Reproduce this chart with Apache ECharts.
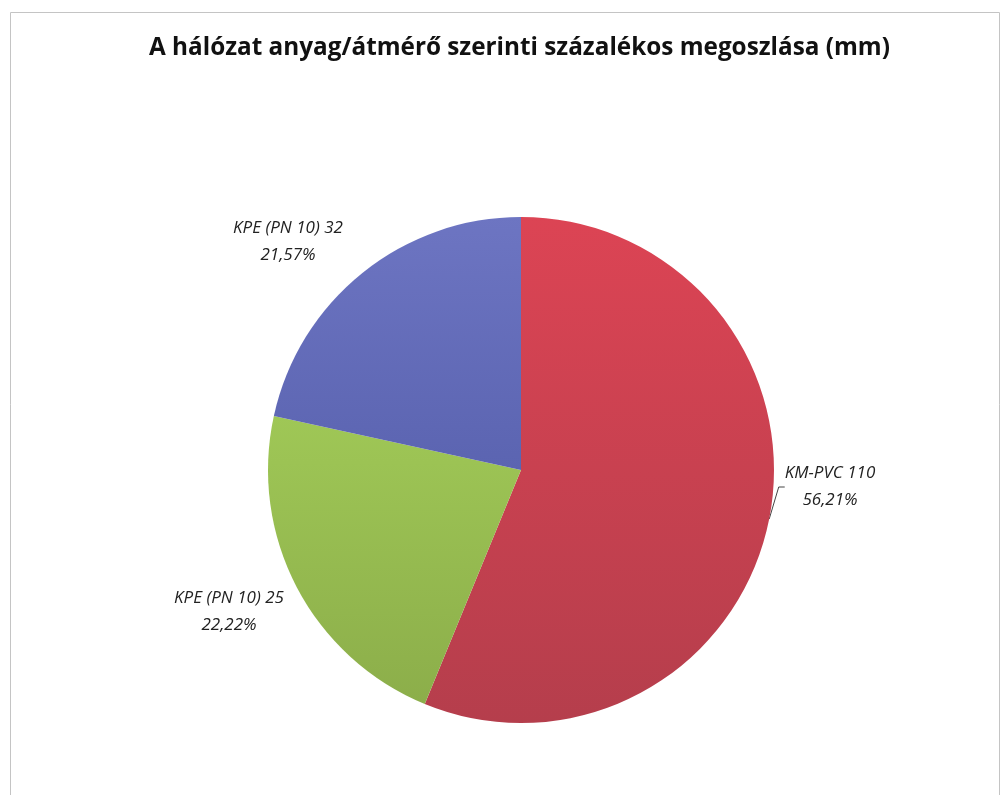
<!DOCTYPE html>
<html>
<head>
<meta charset="utf-8">
<script src="https://cdn.jsdelivr.net/npm/echarts@6/dist/echarts.min.js"></script>
<style>
  html, body { margin: 0; padding: 0; background: #fff; }
  #chart { width: 1005px; height: 795px; }
</style>
</head>
<body>
<div id="chart"></div>
<script>
const categories = ['KM-PVC 110', 'KPE (PN 10) 25', 'KPE (PN 10) 32'];
const shares = [56.21, 22.22, 21.57];
const percentLabels = ['56,21%', '22,22%', '21,57%'];

const sliceColors = [
  ['#dc4454', '#b53e4c'],
  ['#9fc756', '#8cae4a'],
  ['#6d75c2', '#5b64b1'],
];
// label anchor spots (centre of each two-line label)
const labelSpots = [
  { x: 830, y: 487 },
  { x: 229, y: 612 },
  { x: 288, y: 242 },
];

const chart = echarts.init(document.getElementById('chart'), null, { renderer: 'canvas' });

chart.setOption({
  animation: false,
  title: {
    text: 'A hálózat anyag/átmérő szerinti százalékos megoszlása (mm)',
    left: 144,
    top: 31,
    textStyle: { fontFamily: 'Open Sans', fontWeight: 'bold', fontSize: 24.3, color: '#111' },
  },
  graphic: [{
    type: 'rect',
    shape: { x: 10.5, y: 12.5, width: 989, height: 800 },
    style: { fill: 'none', stroke: '#c4c4c4', lineWidth: 1 },
    silent: true,
  }],
  series: [{
    type: 'pie',
    center: [521, 470],
    radius: 253,
    startAngle: 90,
    clockwise: true,
    data: categories.map((name, i) => ({
      name,
      value: shares[i],
      itemStyle: {
        color: new echarts.graphic.LinearGradient(0, 0, 0, 1, [
          { offset: 0, color: sliceColors[i][0] },
          { offset: 1, color: sliceColors[i][1] },
        ]),
      },
      labelLine: i === 0
        ? { show: true, length: 6, length2: 6, lineStyle: { color: '#444', width: 1 } }
        : { show: false },
    })),
    label: {
      show: true,
      position: 'outside',
      formatter: (p) => p.name + '\n' + percentLabels[p.dataIndex],
      fontFamily: 'Open Sans',
      fontStyle: 'italic',
      fontSize: 17,
      lineHeight: 27,
      color: '#222',
      align: 'center',
    },
    labelLayout: (p) => ({
      x: labelSpots[p.dataIndex].x,
      y: labelSpots[p.dataIndex].y,
      align: 'center',
      verticalAlign: 'middle',
    }),
    itemStyle: { borderWidth: 0 },
    emphasis: { disabled: true },
  }],
});
</script>
</body>
</html>
